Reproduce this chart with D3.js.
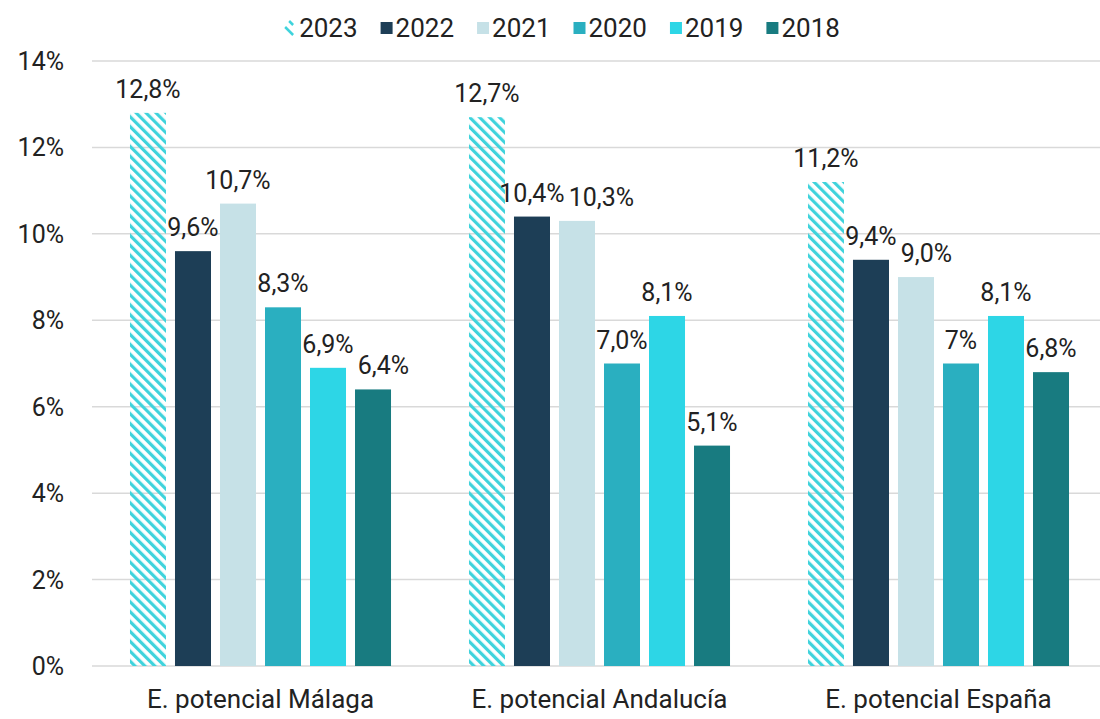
<!DOCTYPE html>
<html>
<head>
<meta charset="utf-8">
<script src="https://cdn.jsdelivr.net/npm/d3@7"></script>
<style>
    body { margin: 0; background: #fff; }
    text { font-family: Roboto, "Noto Sans", sans-serif; fill: #222; }
</style>
</head>
<body>
<div id="chart"></div>
<script>
// data
var categories = ['E. potencial Málaga', 'E. potencial Andalucía', 'E. potencial España'];
var years = ['2023', '2022', '2021', '2020', '2019', '2018'];
var values = {
    '2023': [12.8, 12.7, 11.2],
    '2022': [9.6, 10.4, 9.4],
    '2021': [10.7, 10.3, 9.0],
    '2020': [8.3, 7.0, 7.0],
    '2019': [6.9, 8.1, 8.1],
    '2018': [6.4, 5.1, 6.8]
};
var labels = {
    '2023': ['12,8%', '12,7%', '11,2%'],
    '2022': ['9,6%', '10,4%', '9,4%'],
    '2021': ['10,7%', '10,3%', '9,0%'],
    '2020': ['8,3%', '7,0%', '7%'],
    '2019': ['6,9%', '8,1%', '8,1%'],
    '2018': ['6,4%', '5,1%', '6,8%']
};
var yTicks = [0, 2, 4, 6, 8, 10, 12, 14];
var colors = {
    '2023': 'url(#hatch)',
    '2022': '#1d3e56',
    '2021': '#c6e1e7',
    '2020': '#2aafc0',
    '2019': '#2dd6e6',
    '2018': '#187b80'
};

var width = 1100, height = 719;

var svg = d3.select('#chart').append('svg')
    .attr('width', width)
    .attr('height', height);

var defs = svg.append('defs');
var pat = defs.append('pattern')
    .attr('id', 'hatch')
    .attr('patternUnits', 'userSpaceOnUse')
    .attr('width', 7)
    .attr('height', 7)
    .attr('patternTransform', 'rotate(-45)');
pat.append('rect')
    .attr('width', 3.2)
    .attr('height', 7)
    .attr('fill', '#3fd3dc');

var x0 = d3.scaleBand()
    .domain(categories)
    .range([91, 1108])
    .paddingInner(0.23)
    .paddingOuter(0.115);

var x1 = d3.scaleBand()
    .domain(years)
    .range([0, x0.bandwidth()])
    .paddingInner(0.2);

var y = d3.scaleLinear()
    .domain([0, 14])
    .range([666, 61]);

// grid
svg.append('g').selectAll('line')
    .data(yTicks)
    .join('line')
    .attr('x1', 92)
    .attr('x2', width)
    .attr('y1', d => y(d))
    .attr('y2', d => y(d))
    .style('stroke', '#d9d9d9')
    .style('stroke-width', '1.5px');

// y labels
svg.append('g').selectAll('text')
    .data(yTicks)
    .join('text')
    .attr('x', 64)
    .attr('y', d => y(d) + 9)
    .attr('text-anchor', 'end')
    .style('font-size', '25px')
    .text(d => d + '%');

// bars
var groups = svg.append('g').selectAll('g')
    .data(categories)
    .join('g')
    .attr('transform', d => 'translate(' + x0(d) + ',0)');

years.forEach(function (yr) {
    groups.append('rect')
        .attr('x', x1(yr))
        .attr('width', x1.bandwidth())
        .attr('y', (d, i) => y(values[yr][i]))
        .attr('height', (d, i) => y(0) - y(values[yr][i]))
        .attr('fill', colors[yr]);
});

// value labels, pushed right when they run into the previous one
groups.each(function (d, i) {
    var g = d3.select(this);
    var prev = null;
    years.forEach(function (yr) {
        var t = g.append('text')
            .attr('x', x1(yr) + x1.bandwidth() / 2)
            .attr('y', y(values[yr][i]) - 15)
            .attr('text-anchor', 'middle')
            .style('font-size', '25px')
            .text(labels[yr][i]);
        var b = t.node().getBBox();
        if (prev && b.y < prev.y + prev.height - 4 && b.y + b.height > prev.y + 4
            && b.x < prev.x + prev.width + 4) {
            var dx = prev.x + prev.width + 4 - b.x;
            t.attr('x', x1(yr) + x1.bandwidth() / 2 + dx);
            b = t.node().getBBox();
        }
        prev = b;
    });
});

// category labels
svg.append('g').selectAll('text')
    .data(categories)
    .join('text')
    .attr('x', d => x0(d) + x0.bandwidth() / 2)
    .attr('y', 708)
    .attr('text-anchor', 'middle')
    .style('font-size', '26px')
    .text(d => d);

// legend
var legend = svg.append('g');
var lx = 0;
years.forEach(function (yr) {
    var item = legend.append('g').attr('transform', 'translate(' + lx + ',0)');
    if (yr === '2023') {
        item.append('line').attr('x1', 5).attr('y1', 21).attr('x2', 9).attr('y2', 25)
            .style('stroke', '#3fd3dc').style('stroke-width', '2.5px');
        item.append('line').attr('x1', 1).attr('y1', 27).attr('x2', 9).attr('y2', 35)
            .style('stroke', '#3fd3dc').style('stroke-width', '2.5px');
    } else {
        item.append('rect')
            .attr('x', 0).attr('y', 22)
            .attr('width', 12).attr('height', 12)
            .attr('fill', colors[yr]);
    }
    var t = item.append('text')
        .attr('x', 15)
        .attr('y', 37)
        .style('font-size', '26px')
        .text(yr);
    lx += 15 + t.node().getComputedTextLength() + 23;
});
legend.attr('transform', 'translate(' + (562 - (lx - 23) / 2) + ',0)');
</script>
</body>
</html>
